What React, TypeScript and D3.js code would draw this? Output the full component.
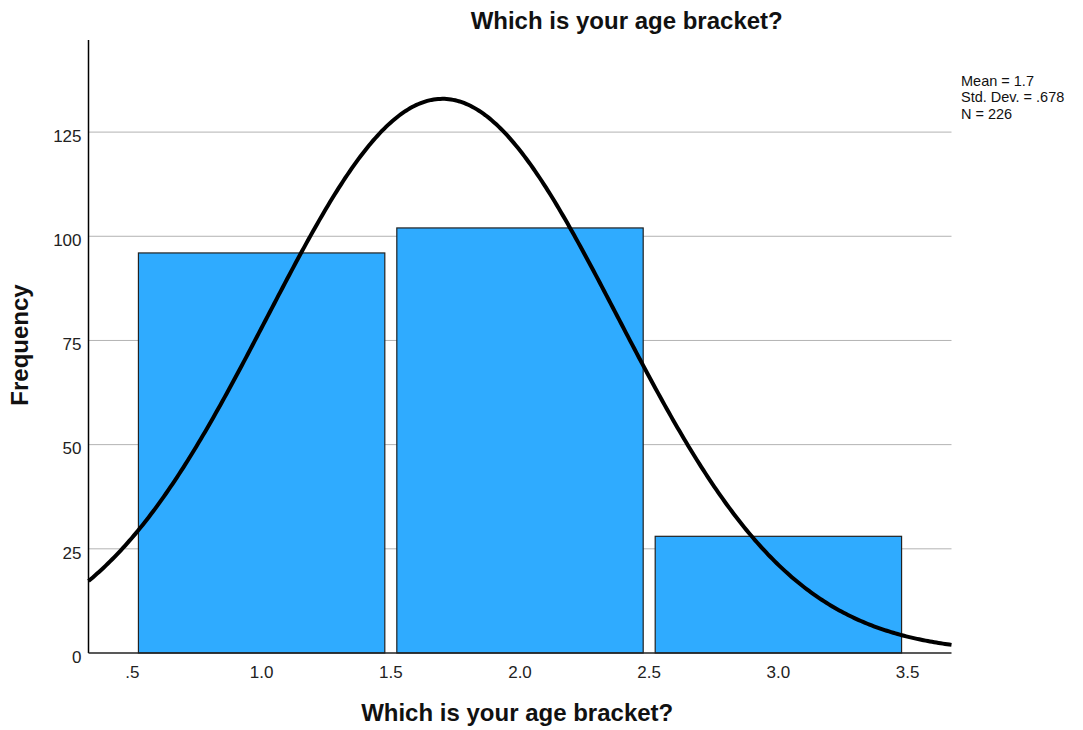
import React from "react";
import * as d3 from "d3";

const binStarts = [0.5, 1.5, 2.5];
const binEnds = [1.5, 2.5, 3.5];
const frequencies = [96, 102, 28];
const xTicks = [0.5, 1.0, 1.5, 2.0, 2.5, 3.0, 3.5];
const xTickLabels = [".5", "1.0", "1.5", "2.0", "2.5", "3.0", "3.5"];
const yTicks = [0, 25, 50, 75, 100, 125];
const statsLines = ["Mean = 1.7", "Std. Dev. = .678", "N = 226"];
const mean = 1.7;
const stdDev = 0.678;
const n = 226;
const binWidth = 1;
const title = "Which is your age bracket?";
const xTitle = "Which is your age bracket?";
const yTitle = "Frequency";

const W = 1083;
const H = 730;
const left = 88.5;
const right = 951.5;
const top = 40;
const bottom = 653;
const FONT = "'Liberation Sans', Arial, sans-serif";

export default function App() {
  const x = d3.scaleLinear().domain([0.33, 3.67]).range([left, right]);
  const y = d3.scaleLinear().domain([0, 147.1]).range([bottom, top]);

  const pdf = (v: number) =>
    (n * binWidth) / (stdDev * Math.sqrt(2 * Math.PI)) *
    Math.exp(-0.5 * ((v - mean) / stdDev) ** 2);
  const curvePts = d3.range(0, 401).map((i) => {
    const v = 0.33 + (i / 400) * (3.67 - 0.33);
    return [x(v), y(pdf(v))] as [number, number];
  });
  const line = d3.line().curve(d3.curveLinear)(curvePts) || "";
  const inset = 6;

  return (
    <svg
      width={W}
      height={H}
      style={{ position: "absolute", left: 0, top: 0, background: "#fff" }}
      fontFamily={FONT}
    >
      <rect x={0} y={0} width={W} height={H} fill="#fff" />
      {yTicks.filter((t) => t > 0).map((t) => (
        <line key={t} x1={left} x2={right} y1={y(t)} y2={y(t)} stroke="#b3b3b3" strokeWidth={1} />
      ))}
      {frequencies.map((f, i) => (
        <rect
          key={i}
          x={x(binStarts[i]) + inset}
          y={y(f)}
          width={x(binEnds[i]) - x(binStarts[i]) - 2 * inset}
          height={y(0) - y(f)}
          fill="#2fabff"
          stroke="#222"
          strokeWidth={1.2}
        />
      ))}
      <path d={line} fill="none" stroke="#000" strokeWidth={4} />
      <line x1={left} x2={left} y1={top} y2={bottom} stroke="#000" strokeWidth={1.5} />
      <line x1={left} x2={right} y1={bottom} y2={bottom} stroke="#222" strokeWidth={1.5} />
      {yTicks.map((t) => (
        <text key={t} x={81.5} y={y(t) + 9.7} textAnchor="end" fontSize={17} fill="#222">
          {t}
        </text>
      ))}
      {xTicks.map((t, i) => (
        <text key={t} x={x(t)} y={677.7} textAnchor="middle" fontSize={17} fill="#222">
          {xTickLabels[i]}
        </text>
      ))}
      <text x={626.7} y={29} textAnchor="middle" fontSize={24} fontWeight="bold" fill="#111">
        {title}
      </text>
      <text x={517.2} y={721} textAnchor="middle" fontSize={24} fontWeight="bold" fill="#111">
        {xTitle}
      </text>
      <text
        transform={`translate(28,${345}) rotate(-90)`}
        textAnchor="middle"
        fontSize={24}
        fontWeight="bold"
        fill="#111"
      >
        {yTitle}
      </text>
      {statsLines.map((s, i) => (
        <text key={i} x={961} y={86 + i * 16.3} fontSize={14.5} fill="#111">
          {s}
        </text>
      ))}
    </svg>
  );
}
